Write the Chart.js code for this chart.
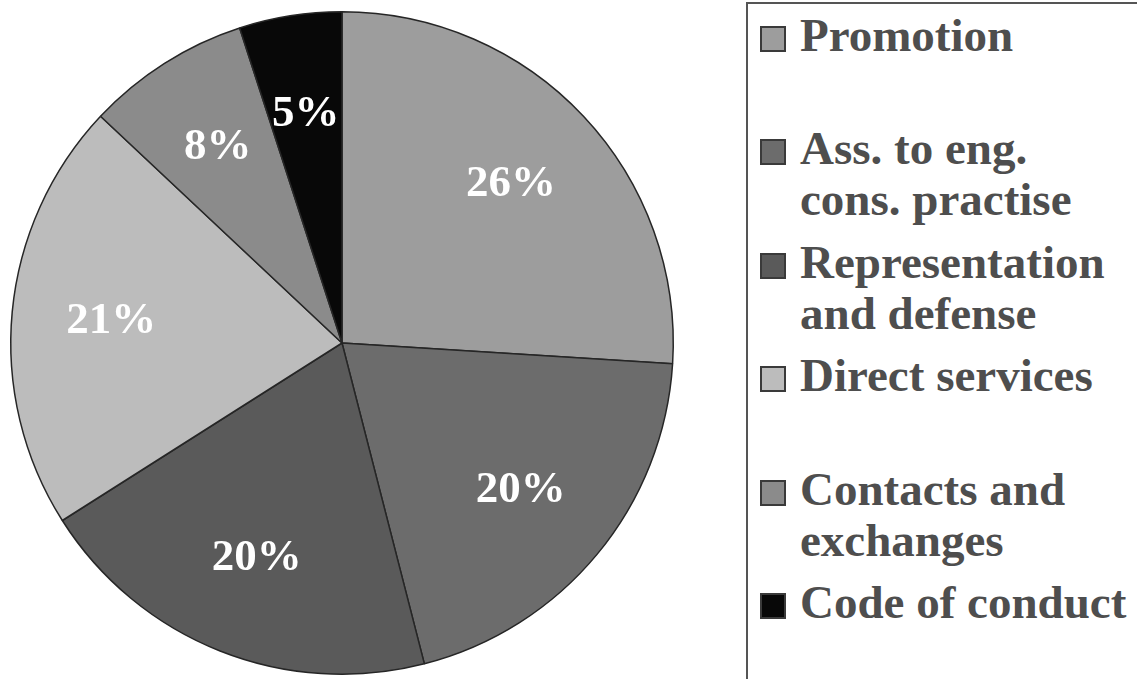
<!DOCTYPE html>
<html>
<head>
<meta charset="utf-8">
<script src="https://cdn.jsdelivr.net/npm/chart.js@4"></script>
<style>
  html, body { margin: 0; padding: 0; background: #fff; overflow: hidden; }
  body { width: 1137px; height: 679px; position: relative; }
  #pieWrap { position: absolute; left: 0; top: 0; width: 684px; height: 679px; }
  #legendBox {
    position: absolute; left: 746px; top: 2px; width: 420px; height: 720px;
    border: 2px solid #555; box-sizing: border-box; padding-top: 6px;
    font-family: "Liberation Serif", "Times New Roman", serif; font-weight: bold;
    font-size: 47px; line-height: 51px; color: #4e4e4e;
  }
  .item { position: relative; height: 113.4px; padding-left: 52px; }
  .swatch {
    position: absolute; left: 12px; top: 16px; width: 22px; height: 22px;
    border: 2px solid #3a3a3a;
  }
</style>
</head>
<body>
<div id="pieWrap"><canvas id="pieChart"></canvas></div>
<div id="legendBox"></div>
<script>
const categories = [
  ["Promotion"],
  ["Ass. to eng.", "cons. practise"],
  ["Representation", "and defense"],
  ["Direct services"],
  ["Contacts and", "exchanges"],
  ["Code of conduct"]
];
const shares = [26, 20, 20, 21, 8, 5];
const sliceColors = ["#9d9d9d", "#6c6c6c", "#5a5a5a", "#bcbcbc", "#8b8b8b", "#080808"];

document.addEventListener("DOMContentLoaded", () => {
  // white percentage labels inside each slice
  const sliceLabels = {
    id: "sliceLabels",
    afterDatasetsDraw(chart) {
      const ctx = chart.ctx;
      const meta = chart.getDatasetMeta(0);
      ctx.save();
      ctx.fillStyle = "#ffffff";
      ctx.font = "bold 45px 'Liberation Serif', serif";
      ctx.textAlign = "center";
      ctx.textBaseline = "middle";
      meta.data.forEach((arc, i) => {
        const p = arc.getProps(["x", "y", "startAngle", "endAngle", "outerRadius"], true);
        const mid = (p.startAngle + p.endAngle) / 2;
        const r = p.outerRadius * 0.7;
        ctx.fillText(shares[i] + "%", p.x + Math.cos(mid) * r, p.y + Math.sin(mid) * r);
      });
      ctx.restore();
    }
  };

  const pieCtx = document.getElementById("pieChart").getContext("2d");
  new Chart(pieCtx, {
    type: "pie",
    data: {
      labels: categories.map(c => c.join(" ")),
      datasets: [{
        data: shares,
        backgroundColor: sliceColors,
        borderColor: "#262626",
        borderWidth: 1.5
      }]
    },
    options: {
      responsive: true,
      maintainAspectRatio: false,
      animation: false,
      layout: { padding: { left: 10, right: 10, top: 11, bottom: 4 } },
      plugins: { legend: { display: false }, tooltip: { enabled: false } }
    },
    plugins: [sliceLabels]
  });

  // legend on the right, one equal-height slot per entry
  const legendBox = document.getElementById("legendBox");
  categories.forEach((lines, i) => {
    const item = document.createElement("div");
    item.className = "item";
    const sw = document.createElement("span");
    sw.className = "swatch";
    sw.style.background = sliceColors[i];
    item.appendChild(sw);
    lines.forEach(t => {
      const line = document.createElement("div");
      line.textContent = t;
      item.appendChild(line);
    });
    legendBox.appendChild(item);
  });
});
</script>
</body>
</html>
